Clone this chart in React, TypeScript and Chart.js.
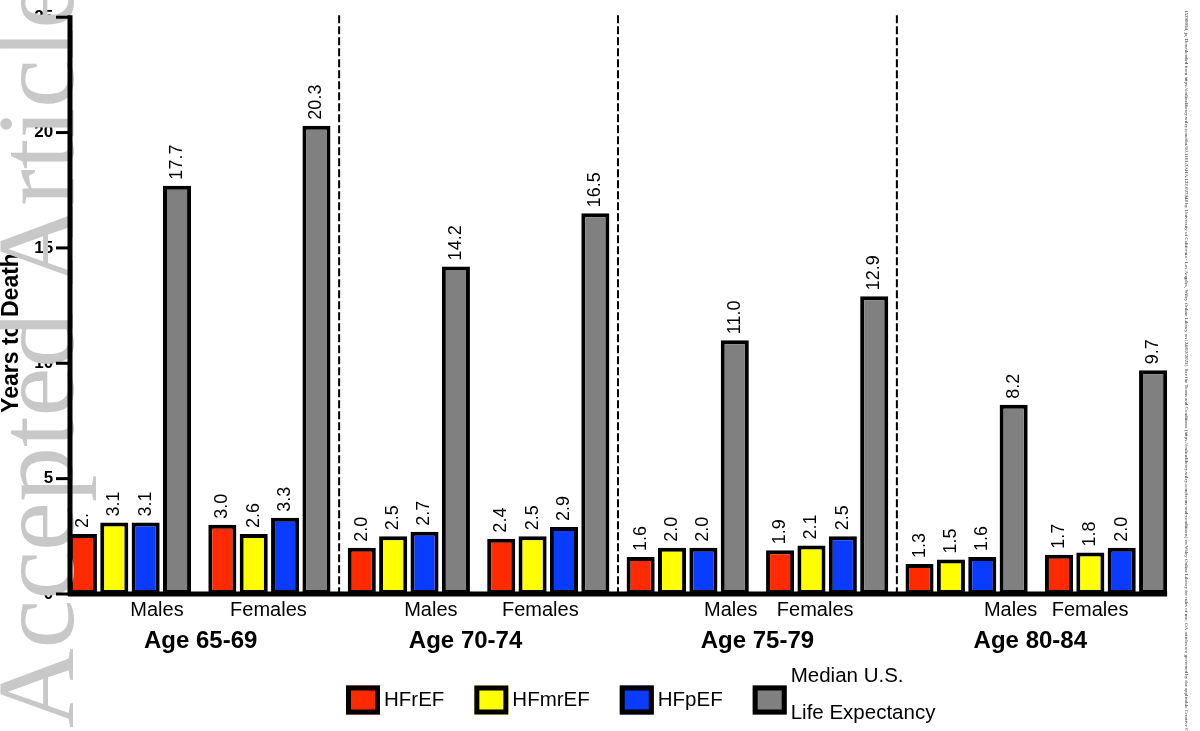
import React, { useEffect, useRef } from 'react';
import { Chart, registerables } from 'chart.js';

Chart.register(...registerables);

const ageGroups = ['Age 65-69', 'Age 70-74', 'Age 75-79', 'Age 80-84'];
const sexes = ['Males', 'Females'];
const categories = ageGroups.flatMap((a) => sexes.map((s) => `${a} ${s}`));
const hfrefValues = [2.6, 3.0, 2.0, 2.4, 1.6, 1.9, 1.3, 1.7];
const hfrefLabels = ['2.', '3.0', '2.0', '2.4', '1.6', '1.9', '1.3', '1.7'];
const hfmrefValues = [3.1, 2.6, 2.5, 2.5, 2.0, 2.1, 1.5, 1.8];
const hfpefValues = [3.1, 3.3, 2.7, 2.9, 2.0, 2.5, 1.6, 2.0];
const lifeExpValues = [17.7, 20.3, 14.2, 16.5, 11.0, 12.9, 8.2, 9.7];
const seriesNames = ['HFrEF', 'HFmrEF', 'HFpEF', 'Median U.S.\nLife Expectancy'];
const yTickValues = [0, 5, 10, 15, 20, 25];
const yTitle = 'Years to Death';
const watermarkText = 'Accepted Article';
const sideNote =
  '15298094, ja, Downloaded from https://onlinelibrary.wiley.com/doi/10.1161/JAHA.122.027948 by University of California - Los Angeles, Wiley Online Library on [24/02/2023]. See the Terms and Conditions (https://onlinelibrary.wiley.com/terms-and-conditions) on Wiley Online Library for rules of use; OA articles are governed by the applicable Creative Commons License';

// style-only helpers (pixel shifts of text, not data)
const sexLabelShift = [27, -1, 22, -8, 43, -12, 44, -16];
const ageLabelShift = [1, -13, 0, -6];

const SANS = "'Liberation Sans', Arial, Helvetica, sans-serif";
const SERIF = "'Liberation Serif', 'Times New Roman', serif";

const overlayPlugin = {
  id: 'overlay',
  beforeDatasetsDraw(chart: any) {
    const { ctx } = chart;
    ctx.save();
    ctx.translate(12, 333);
    ctx.rotate(-Math.PI / 2);
    ctx.font = `bold 23px ${SANS}`;
    ctx.fillStyle = '#000';
    ctx.textAlign = 'center';
    ctx.textBaseline = 'middle';
    ctx.fillText(yTitle, 0, 0);
    ctx.restore();
  },
  afterDatasetsDraw(chart: any) {
    const { ctx } = chart;
    chart.data.datasets.forEach((ds: any, di: number) => {
      const meta = chart.getDatasetMeta(di);
      meta.data.forEach((bar: any, i: number) => {
        const txt = ds.valueLabels ? ds.valueLabels[i] : Number(ds.data[i]).toFixed(1);
        ctx.save();
        ctx.translate(bar.x, bar.y - 6);
        ctx.rotate(-Math.PI / 2);
        ctx.font = `18px ${SANS}`;
        ctx.fillStyle = '#000';
        ctx.textAlign = 'left';
        ctx.textBaseline = 'middle';
        ctx.fillText(txt, 0, 0);
        ctx.restore();
      });
    });
  },
  afterDraw(chart: any) {
    const { ctx } = chart;
    const xs = chart.scales.x;
    const ys = chart.scales.y;
    const y0 = ys.getPixelForValue(0);
    const yTop = ys.getPixelForValue(25);

    // dashed separators between age groups
    ctx.save();
    ctx.strokeStyle = '#000';
    ctx.lineWidth = 2;
    ctx.setLineDash([8, 3]);
    for (let g = 1; g < ageGroups.length; g++) {
      const sx = (xs.getPixelForValue(2 * g - 1) + xs.getPixelForValue(2 * g)) / 2;
      ctx.beginPath();
      ctx.moveTo(sx, yTop - 2);
      ctx.lineTo(sx, y0);
      ctx.stroke();
    }
    ctx.restore();

    // sex and age labels
    ctx.save();
    ctx.fillStyle = '#000';
    ctx.textAlign = 'center';
    ctx.textBaseline = 'middle';
    ctx.font = `20px ${SANS}`;
    categories.forEach((_, i) => {
      ctx.fillText(sexes[i % 2], xs.getPixelForValue(i) + sexLabelShift[i], 610);
    });
    ctx.font = `bold 24px ${SANS}`;
    ageGroups.forEach((a, g) => {
      const cx = (xs.getPixelForValue(2 * g) + xs.getPixelForValue(2 * g + 1)) / 2;
      ctx.fillText(a, cx + ageLabelShift[g], 641);
    });
    ctx.restore();

    // legend
    ctx.save();
    ctx.font = `20.5px ${SANS}`;
    const boxW = 34;
    const boxH = 29;
    const gapBox = 4;
    const gapItem = 30;
    const items = chart.data.datasets.map((ds: any) => {
      const lines = String(ds.label).split('\n');
      const w = Math.max(...lines.map((l: string) => ctx.measureText(l).width));
      return { lines, w, color: ds.backgroundColor };
    });
    let lx = 346;
    const ly = 700;
    items.forEach((it: any) => {
      ctx.fillStyle = it.color;
      ctx.fillRect(lx, ly - boxH / 2, boxW, boxH);
      ctx.strokeStyle = '#000';
      ctx.lineWidth = 5;
      ctx.strokeRect(lx + 2.5, ly - boxH / 2 + 2.5, boxW - 5, boxH - 5);
      ctx.fillStyle = '#000';
      ctx.textAlign = 'left';
      ctx.textBaseline = 'middle';
      const tx = lx + boxW + gapBox;
      if (it.lines.length === 1) {
        ctx.fillText(it.lines[0], tx, ly);
      } else {
        it.lines.forEach((l: string, k: number) => {
          ctx.fillText(l, tx, 676 + k * 37);
        });
      }
      lx = tx + it.w + gapItem;
    });
    ctx.restore();

    // right side note
    ctx.save();
    ctx.translate(1186, 10);
    ctx.rotate(Math.PI / 2);
    ctx.font = `5px ${SERIF}`;
    ctx.fillStyle = '#222';
    ctx.textAlign = 'left';
    ctx.textBaseline = 'middle';
    ctx.fillText(sideNote, 0, 0);
    ctx.restore();

    // watermark
    ctx.save();
    ctx.translate(73, 728);
    ctx.rotate(-Math.PI / 2);
    ctx.font = `110px ${SERIF}`;
    ctx.fillStyle = '#c8c8c8';
    ctx.textAlign = 'left';
    ctx.textBaseline = 'alphabetic';
    ctx.fillText(watermarkText, 0, 0);
    ctx.restore();

    // axes
    const lastMeta = chart.getDatasetMeta(chart.data.datasets.length - 1);
    const lastBar: any = lastMeta.data[lastMeta.data.length - 1];
    const xRight = lastBar.x + lastBar.width / 2;
    const axisX = 70;
    ctx.save();
    ctx.strokeStyle = '#000';
    ctx.lineWidth = 5;
    ctx.beginPath();
    ctx.moveTo(axisX, yTop - 2);
    ctx.lineTo(axisX, y0 + 2);
    ctx.stroke();
    ctx.beginPath();
    ctx.moveTo(axisX - 2, y0);
    ctx.lineTo(xRight, y0);
    ctx.stroke();
    ctx.lineWidth = 3;
    yTickValues.forEach((v) => {
      const ty = ys.getPixelForValue(v);
      ctx.beginPath();
      ctx.moveTo(56, ty);
      ctx.lineTo(axisX, ty);
      ctx.stroke();
    });
    ctx.restore();
  },
};

export default function App() {
  const canvasRef = useRef<HTMLCanvasElement | null>(null);

  useEffect(() => {
    document.body.style.margin = '0';
    const canvas = canvasRef.current;
    if (!canvas) return;
    const chart = new Chart(canvas, {
      type: 'bar',
      data: {
        labels: categories,
        datasets: [
          { label: seriesNames[0], data: hfrefValues, valueLabels: hfrefLabels, backgroundColor: '#ff2a00' } as any,
          { label: seriesNames[1], data: hfmrefValues, backgroundColor: '#ffff00' },
          { label: seriesNames[2], data: hfpefValues, backgroundColor: '#0a3cff' },
          { label: seriesNames[3], data: lifeExpValues, backgroundColor: '#808080' },
        ].map((d: any) => ({
          ...d,
          borderColor: '#000',
          borderWidth: 4,
          borderSkipped: false,
          categoryPercentage: 0.9,
          barPercentage: 0.895,
        })),
      },
      options: {
        responsive: false,
        animation: false,
        devicePixelRatio: 1,
        layout: { padding: { top: 17, right: 24.25, bottom: 137, left: 0 } },
        plugins: { legend: { display: false }, tooltip: { enabled: false } },
        scales: {
          x: { display: false, offset: true, grid: { display: false } },
          y: {
            min: 0,
            max: 25,
            afterFit: (scale: any) => {
              scale.width = 60.25;
            },
            afterBuildTicks: (scale: any) => {
              scale.ticks = yTickValues.map((v) => ({ value: v }));
            },
            grid: { display: false, drawTicks: false },
            border: { display: false },
            ticks: {
              padding: 7,
              color: '#000',
              font: { family: SANS, size: 17, weight: 'bold' },
            },
          },
        },
      },
      plugins: [overlayPlugin],
    } as any);
    return () => chart.destroy();
  }, []);

  return (
    <div style={{ width: 1200, height: 731, background: '#fff' }}>
      <canvas ref={canvasRef} width={1200} height={731} style={{ display: 'block' }} />
    </div>
  );
}
